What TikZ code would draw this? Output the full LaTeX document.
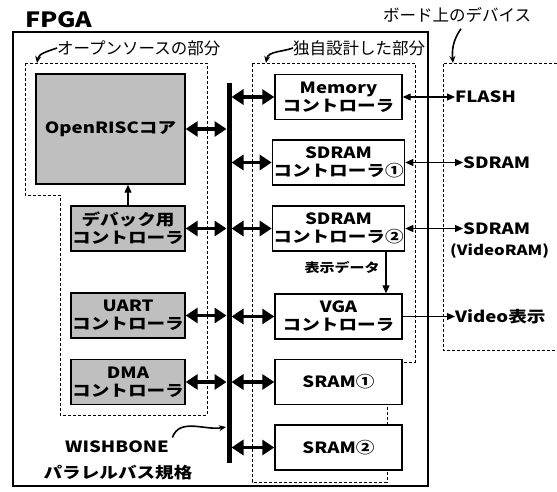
\documentclass[tikz,border=0pt]{standalone}
\usepackage{fontspec}
\setmainfont{Noto Sans CJK JP}[FakeStretch=1.2]
\newfontfamily\thinfont{Noto Sans CJK JP}
\usetikzlibrary{arrows.meta}
\usetikzlibrary{positioning}

\begin{document}
\begin{tikzpicture}[x=1pt,y=-1pt]

\def\BoxFont{\fontsize{15.5}{18}\selectfont\bfseries}
\def\NoteFont{\thinfont\fontsize{16.5}{18}\selectfont}
\def\LeftWidth{114pt}
\def\RightWidth{127pt}
\def\BoxHeight{45pt}

% Styles
\tikzstyle{box} =
	[draw, line width=1.4pt, align=center, inner sep=1pt, font=\BoxFont, minimum height=\BoxHeight]

\tikzstyle{open module} =
	[box, fill=gray!50, minimum width=\LeftWidth]

\tikzstyle{own module} =
	[box, fill=white, minimum width=\RightWidth]

\tikzstyle{region} =
	[densely dashed, line width=0.8pt]

\tikzstyle{note} =
	[font=\NoteFont, inner sep=0pt, anchor=west]

\tikzstyle{device} =
	[font=\BoxFont, inner sep=0pt, anchor=west]

\useasboundingbox (0,0) rectangle (557,492);

% Regions

\draw[line width=1.4pt] (13,32) rectangle (428,486);
\node (FPGA) at (25,20)
	[anchor=west, inner sep=0pt, font=\fontsize{21}{21}\selectfont\bfseries] {FPGA};

\draw[region] (25,63) -- (207,63) -- (207,415) -- (60,415) -- (60,195) -- (25,195) -- cycle;
\draw[region] (252,63) -- (415,63) -- (415,362) -- (387,362) -- (387,482) -- (252,482) -- cycle;
\draw[region] (557,63) -- (443,63) -- (443,350) -- (557,350);

% Modules

\node (OpenRISC) at (110.5,129)
	[box, fill=gray!50, minimum width=149pt, minimum height=110pt] {OpenRISCコア};
\node (Debug) at (128,228.5) [open module] {デバック用\\コントローラ};
\node (UART) at (128,315.5) [open module] {UART\\コントローラ};
\node (DMA) at (128,382) [open module] {DMA\\コントローラ};

\node (Memory) at (338.5,97) [own module] {Memory\\コントローラ};
\node (SDRAMa) at (338.5,162.5) [own module] {SDRAM\\コントローラ①};
\node (SDRAMb) at (338.5,228.5) [own module] {SDRAM\\コントローラ②};
\node (VGA) at (338.5,316.5) [own module] {VGA\\コントローラ};
\node (SRAMa) at (338.5,382) [own module] {SRAM①};
\node (SRAMb) at (338.5,447.5) [own module] {SRAM②};

% Devices

\node (Flash) at (455,97) [device] {FLASH};
\node (SDRAMc) at (463,162.5) [device] {SDRAM};
\node (SDRAMd) at (463,228.5) [device] {SDRAM};
\node (VideoRAM) at (450,251) [device, font=\fontsize{14}{16}\selectfont\bfseries] {(VideoRAM)};
\node (Video) at (455,316.5) [device] {Video表示};

% Edges

\tikzstyle{bus link} =
	[line width=3.2pt, {Triangle[length=12pt,width=15pt]}-{Triangle[length=12pt,width=15pt]}]

\tikzstyle{device link} =
	[line width=1.2pt, {Triangle[length=8pt,width=7pt]}-{Triangle[length=8pt,width=7pt]}]

\coordinate (BusTop) at (229,83);
\coordinate (BusBottom) at (229,463);
\draw[line width=5pt] (BusTop) -- (BusBottom);

\foreach \m in {OpenRISC, Debug, UART, DMA}
	\draw[bus link, shorten >=2.5pt] (\m.east) -- (\m.east -| BusTop);
\foreach \m in {Memory, SDRAMa, SDRAMb, VGA, SRAMa, SRAMb}
	\draw[bus link, shorten <=2.5pt] (\m.west -| BusTop) -- (\m.west);

\draw[line width=1.2pt, -{Triangle[length=8pt,width=7pt]}] (Debug.north) -- (OpenRISC.south -| Debug.north);

\draw[device link] (Memory.east) -- (Flash.west);
\draw[device link] (SDRAMa.east) -- (SDRAMc.west);
\draw[device link] (SDRAMb.east) -- (SDRAMd.west);
\draw[line width=1.2pt, -{Triangle[length=8pt,width=7pt]}] (VGA.east) -- (Video.west);

\coordinate (DataX) at (386,0);
\draw[line width=1.2pt, -{Triangle[length=8pt,width=7pt]}] (SDRAMb.south -| DataX) -- (VGA.north -| DataX);
\node (DispData) at (342,268) [font=\fontsize{12.5}{14}\selectfont\bfseries] {表示データ};

% Notes

\tikzstyle{pointer} =
	[line width=1.6pt, -{Stealth[length=7pt,width=6pt]}]

\node (OpenNote) at (57,48) [note] {オープンソースの部分};
\node (OwnNote) at (293,48) [note] {独自設計した部分};
\node (BoardNote) at (383,15) [note] {ボード上のデバイス};

\coordinate (OpenCorner) at (37,63);
\coordinate (OwnCorner) at (266,63);
\coordinate (BoardCorner) at (453,63);
\draw[pointer] (OpenNote.west) to[out=200,in=80] (OpenCorner);
\draw[pointer] (OwnNote.west) to[out=200,in=80] (OwnCorner);
\draw[pointer] (BoardNote.south west) ++(78,6) coordinate (BoardStart)
	(BoardStart) to[out=235,in=95] (BoardCorner);

\node (Wishbone) at (117,447) [font=\BoxFont] {WISHBONE};
\node (ParallelBus) at (118,473) [font=\BoxFont] {パラレルバス規格};
\coordinate (BusPoint) at (226,427);
\draw[pointer] (Wishbone.north east) to[out=70,in=190] (BusPoint);

\end{tikzpicture}
\end{document}
